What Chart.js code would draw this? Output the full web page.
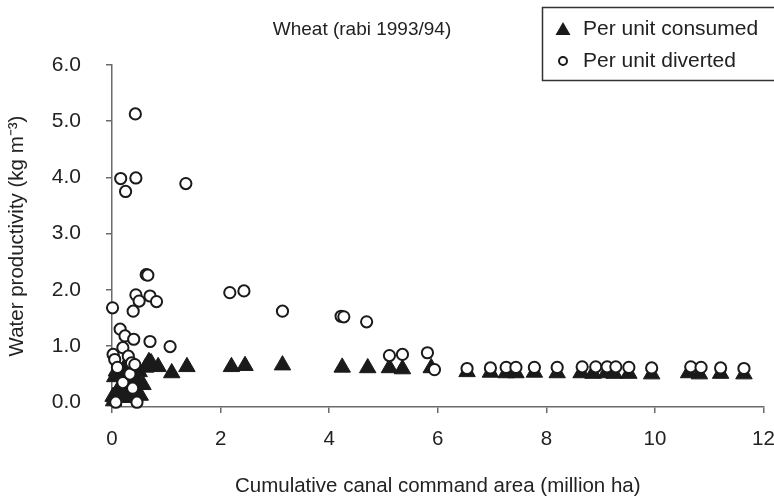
<!DOCTYPE html>
<html><head><meta charset="utf-8">
<script src="https://cdn.jsdelivr.net/npm/chart.js@4"></script>
<style>html,body{margin:0;padding:0;background:#fff}#c{display:block}</style>
</head><body>
<canvas id="c" width="774" height="499"></canvas>
<script>
const chartTitle = 'Wheat (rabi 1993/94)';
const seriesNames = ['Per unit consumed', 'Per unit diverted'];
const xAxisTitle = 'Cumulative canal command area (million ha)';
const yAxisTitle = 'Water productivity (kg m\u207B\u00B3)';
const xTicks = [0, 2, 4, 6, 8, 10, 12];
const yTicks = [0, 1, 2, 3, 4, 5, 6];

const consumedX = [0.02,0.03,0.05,0.08,0.1,0.12,0.15,0.18,0.2,0.22,0.25,0.28,0.3,0.33,0.35,0.38,0.4,0.43,0.46,0.5,0.52,0.57,0.62,0.68,0.72,0.85,1.1,1.38,2.2,2.45,3.14,4.24,4.71,5.11,5.35,5.88,6.54,6.97,7.26,7.44,7.78,8.2,8.64,8.86,9.1,9.25,9.52,9.94,10.62,10.82,11.21,11.64];
const consumedY = [0.1,0.02,0.45,0.55,0.2,0.5,0.12,0.52,0.32,0.6,0.42,0.22,0.55,0.08,0.62,0.4,0.28,0.55,0.38,0.54,0.12,0.31,0.62,0.72,0.7,0.63,0.52,0.63,0.63,0.65,0.66,0.62,0.61,0.61,0.59,0.61,0.54,0.53,0.52,0.52,0.53,0.52,0.52,0.51,0.52,0.51,0.51,0.5,0.52,0.5,0.51,0.5];

const divertedX = [0.01,0.02,0.05,0.07,0.1,0.15,0.16,0.2,0.2,0.24,0.25,0.3,0.33,0.36,0.38,0.39,0.4,0.42,0.43,0.44,0.44,0.46,0.5,0.63,0.66,0.7,0.7,0.82,1.07,1.36,2.17,2.43,3.14,4.22,4.27,4.69,5.11,5.35,5.81,5.94,6.54,6.97,7.26,7.44,7.78,8.2,8.66,8.91,9.12,9.28,9.52,9.94,10.66,10.85,11.21,11.64];
const divertedY = [1.68,0.85,0.76,0.0,0.62,1.3,3.98,0.35,0.97,1.18,3.75,0.82,0.5,0.7,0.25,1.62,1.12,0.67,5.13,3.99,1.91,0.0,1.8,2.27,2.26,1.89,1.08,1.79,0.99,3.89,1.95,1.98,1.62,1.53,1.52,1.43,0.83,0.85,0.88,0.58,0.6,0.61,0.62,0.62,0.62,0.62,0.63,0.63,0.63,0.63,0.62,0.61,0.63,0.62,0.61,0.6];

const FAMILY = '"Liberation Sans", Arial, Helvetica, sans-serif';
const TEXT = '#222';
const AXIS = '#6b6b6b';

const toPts = (xs, ys) => xs.map((x, i) => ({x: x, y: ys[i]}));

const overlay = {
  id: 'overlay',
  afterDraw(chart) {
    const ctx = chart.ctx;
    ctx.save();
    ctx.fillStyle = TEXT;
    ctx.font = '19px ' + FAMILY;
    ctx.textAlign = 'center';
    ctx.textBaseline = 'middle';
    ctx.fillText(chartTitle, 362, 30);
    // legend box
    ctx.strokeStyle = '#333';
    ctx.lineWidth = 1.5;
    ctx.strokeRect(542.5, 7.5, 300, 73);
    // triangle marker
    ctx.fillStyle = '#1a1a1a';
    ctx.beginPath();
    ctx.moveTo(563, 22);
    ctx.lineTo(570.5, 35);
    ctx.lineTo(555.5, 35);
    ctx.closePath();
    ctx.fill();
    // circle marker
    ctx.beginPath();
    ctx.arc(563, 61, 4, 0, Math.PI * 2);
    ctx.strokeStyle = '#1a1a1a';
    ctx.lineWidth = 2;
    ctx.stroke();
    ctx.fillStyle = TEXT;
    ctx.textAlign = 'left';
    ctx.font = '21px ' + FAMILY;
    ctx.fillText(seriesNames[0], 583, 29);
    ctx.fillText(seriesNames[1], 583, 61);
    ctx.restore();
  }
};

new Chart(document.getElementById('c'), {
  type: 'scatter',
  data: {
    datasets: [
      {
        label: seriesNames[1],
        data: toPts(divertedX, divertedY),
        pointStyle: 'circle',
        pointRadius: 5.6,
        pointHoverRadius: 5.6,
        borderWidth: 2,
        pointBorderWidth: 2,
        borderColor: '#1a1a1a',
        backgroundColor: '#ffffff',
        order: 1,
        clip: false
      },
      {
        label: seriesNames[0],
        data: toPts(consumedX, consumedY),
        pointStyle: 'triangle',
        pointRadius: 9.5,
        pointHoverRadius: 9.5,
        borderWidth: 1,
        pointBorderWidth: 1,
        borderColor: '#1a1a1a',
        backgroundColor: '#1a1a1a',
        order: 2,
        clip: false
      }
    ]
  },
  options: {
    responsive: false,
    animation: false,
    devicePixelRatio: 1,
    layout: { padding: { top: 65, right: 8, left: 0, bottom: 0 } },
    plugins: {
      legend: { display: false },
      title: { display: false },
      tooltip: { enabled: false }
    },
    scales: {
      x: {
        type: 'linear',
        min: 0, max: 12,
        afterBuildTicks: s => { s.ticks = xTicks.map(v => ({value: v})); },
        afterFit: s => { s.height = 92; s.paddingLeft = 0; s.paddingRight = 0; },
        grid: { display: true, drawOnChartArea: false, drawTicks: true, tickLength: 6, color: AXIS, lineWidth: 1.5 },
        border: { display: true, color: AXIS, width: 1.5 },
        ticks: { color: TEXT, font: { family: FAMILY, size: 20.5 }, padding: 14, maxRotation: 0, autoSkip: false },
        title: { display: true, text: xAxisTitle, color: TEXT, font: { family: FAMILY, size: 20.5 }, padding: { top: 0, bottom: 0 } }
      },
      y: {
        type: 'linear',
        min: -0.085, max: 6,
        afterBuildTicks: s => { s.ticks = yTicks.map(v => ({value: v})); },
        afterFit: s => { s.width = 112; s.paddingTop = 0; s.paddingBottom = 0; },
        grid: { display: true, drawOnChartArea: false, drawTicks: true, tickLength: 6, color: AXIS, lineWidth: 1.5 },
        border: { display: true, color: AXIS, width: 1.5 },
        ticks: { color: TEXT, font: { family: FAMILY, size: 21 }, padding: 25, autoSkip: false, callback: v => Number(v).toFixed(1) },
        title: { display: true, text: yAxisTitle, color: TEXT, font: { family: FAMILY, size: 20.5 }, padding: { top: 5, bottom: 0 } }
      }
    }
  },
  plugins: [overlay]
});
</script>
</body></html>
